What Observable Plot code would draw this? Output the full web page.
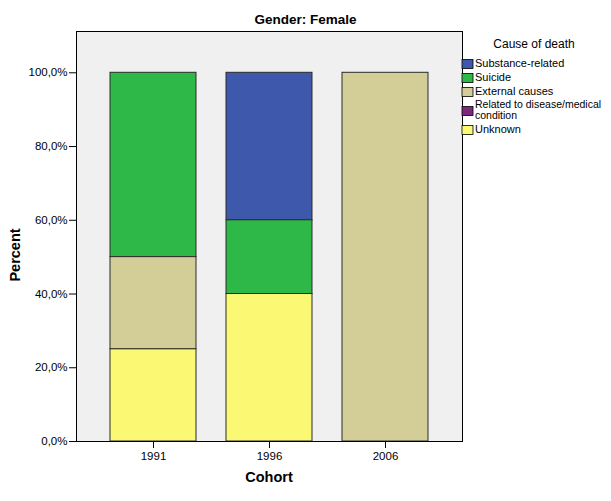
<!DOCTYPE html>
<html><head><meta charset="utf-8">
<script src="https://cdn.jsdelivr.net/npm/d3@7"></script>
<script src="https://cdn.jsdelivr.net/npm/@observablehq/plot@0.6"></script>
<style>body{margin:0;background:#fff;} #chart svg{display:block;}</style>
</head><body><div id="chart"></div>
<script>
const cohorts = ["1991", "1996", "2006"];
const causes = ["Substance-related", "Suicide", "External causes", "Related to disease/medical condition", "Unknown"];
const causeLines = [["Substance-related"], ["Suicide"], ["External causes"], ["Related to disease/medical", "condition"], ["Unknown"]];
const causeColors = ["#3e58ac", "#2eb848", "#d3ce97", "#7b287d", "#fbf873"];
const stackOrder = ["Unknown", "Related to disease/medical condition", "External causes", "Suicide", "Substance-related"];
// percent per cause (same order as causes)
const pct1991 = [0, 50, 25, 0, 25];
const pct1996 = [40, 20, 0, 0, 40];
const pct2006 = [0, 0, 100, 0, 0];
const yTicks = [0, 20, 40, 60, 80, 100];

const series = [pct1991, pct1996, pct2006];
const rows = [];
cohorts.forEach((c, i) => causes.forEach((k, j) => {
  if (series[i][j] > 0) rows.push({cohort: c, cause: k, pct: series[i][j]});
}));

const font = "'Liberation Sans', Arial, sans-serif";
const fmt = d => d.toFixed(1).replace(".", ",") + "%";

const plot = Plot.plot({
  width: 611, height: 501,
  marginLeft: 76, marginRight: 149, marginTop: 31, marginBottom: 60,
  style: {fontFamily: font, fontSize: "11px", background: "#fff", color: "#000"},
  x: {domain: cohorts, paddingInner: 0.26, paddingOuter: 0.293, label: null},
  y: {domain: [0, 111.2], label: null},
  color: {domain: causes, range: causeColors},
  marks: [
    Plot.frame({fill: "#f0f0f0", stroke: "none"}),
    Plot.barY(rows, {x: "cohort", y: "pct", fill: "cause", order: stackOrder, stroke: "#2a2a2a", strokeWidth: 1, inset: 0}),
    Plot.frame({stroke: "#000", strokeWidth: 1}),
    Plot.axisY({ticks: yTicks, tickFormat: fmt, tickSize: 7, tickPadding: 2, label: null, fontSize: 11.5}),
    Plot.axisX({tickSize: 7, tickPadding: 3, label: null, fontSize: 11.5})
  ]
});

document.getElementById("chart").appendChild(plot);
const svg = d3.select(plot);
const color = plot.scale("color");

svg.append("text").attr("x", 305.5).attr("y", 20).attr("text-anchor", "middle").attr("dominant-baseline", "middle")
  .attr("font-family", font).attr("font-weight", "bold").attr("font-size", 13.5).text("Gender: Female");
svg.append("text").attr("transform", "translate(16,255) rotate(-90)").attr("text-anchor", "middle").attr("dominant-baseline", "middle")
  .attr("font-family", font).attr("font-weight", "bold").attr("font-size", 14.5).text("Percent");
svg.append("text").attr("x", 269).attr("y", 478).attr("text-anchor", "middle").attr("dominant-baseline", "middle")
  .attr("font-family", font).attr("font-weight", "bold").attr("font-size", 14.5).text("Cohort");

const lg = svg.append("g").attr("font-family", font).attr("font-size", 11).attr("text-anchor", "start");
lg.append("text").attr("x", 534).attr("y", 45).attr("text-anchor", "middle").attr("dominant-baseline", "middle")
  .attr("font-size", 12).text("Cause of death");
let y0 = 57;
causes.forEach((k, i) => {
  const lines = causeLines[i];
  const multi = lines.length > 1;
  const lh = 11;
  const h = multi ? 2 + lines.length * lh : 14;
  const cy = y0 + h / 2;
  lg.append("rect").attr("x", 462).attr("y", cy - 4.5).attr("width", 11).attr("height", 9)
    .attr("fill", color.apply(k)).attr("stroke", "#000").attr("stroke-width", 0.8);
  lines.forEach((t, li) => {
    lg.append("text").attr("x", 475).attr("y", cy + (li - (lines.length - 1) / 2) * lh)
      .attr("font-size", multi ? 10.5 : 11)
      .attr("text-anchor", "start").attr("dominant-baseline", "middle").text(t);
  });
  y0 += h;
});
</script>
</body></html>
